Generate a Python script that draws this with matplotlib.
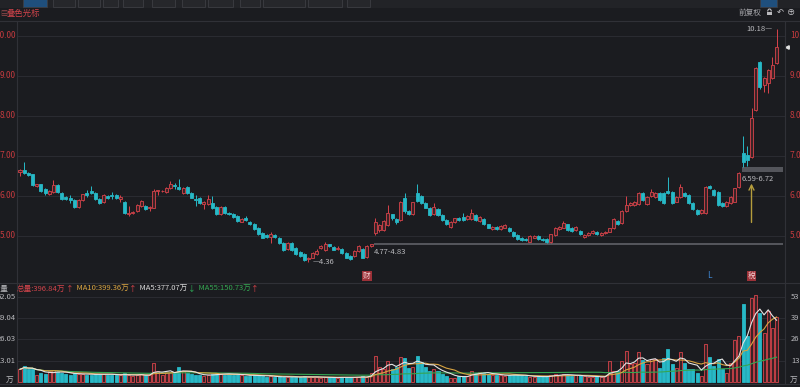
import matplotlib.pyplot as plt
from matplotlib.patches import Rectangle, Arc
from matplotlib.transforms import blended_transform_factory
import pandas as pd

plt.rcParams['font.family'] = ['Noto Sans CJK SC', 'DejaVu Sans']

# daily candles, oldest first
opens = [
    6.60, 6.65, 6.58, 6.54, 6.24, 6.29, 6.17, 6.05, 6.10, 6.27,
    6.07, 5.98, 5.95, 5.90, 5.73, 5.90, 6.08, 6.12, 6.07, 5.93,
    5.84, 6.00, 6.02, 6.02, 5.93, 5.86, 5.56, 5.58, 5.62, 5.75,
    5.75, 5.70, 5.71, 6.12, 6.12, 6.10, 6.20, 6.28, 6.23, 6.08,
    6.22, 6.08, 5.93, 5.96, 5.80, 5.80, 5.83, 5.73, 5.55, 5.73,
    5.58, 5.55, 5.50, 5.36, 5.45, 5.35, 5.30, 5.20, 5.08, 5.02,
    4.97, 5.02, 4.96, 4.82, 4.67, 4.82, 4.70, 4.60, 4.55, 4.42,
    4.46, 4.55, 4.70, 4.65, 4.79, 4.72, 4.67, 4.68, 4.58, 4.50,
    4.49, 4.63, 4.67, 4.48, 4.75, 5.08, 5.14, 5.15, 5.28, 5.54,
    5.42, 5.40, 5.95, 5.62, 5.55, 6.08, 6.00, 5.83, 5.71, 5.55,
    5.68, 5.52, 5.40, 5.23, 5.35, 5.46, 5.48, 5.42, 5.42, 5.52,
    5.37, 5.42, 5.29, 5.17, 5.23, 5.18, 5.21, 5.21, 5.10, 5.02,
    4.96, 4.93, 4.86, 4.96, 5.00, 4.93, 4.92, 4.85, 5.03, 5.18,
    5.21, 5.29, 5.21, 5.15, 5.12, 4.98, 5.02, 5.08, 5.10, 5.03,
    5.07, 5.11, 5.19, 5.37, 5.32, 5.63, 5.77, 5.77, 5.79, 6.08,
    5.79, 6.00, 5.98, 6.08, 6.07, 6.13, 6.10, 5.86, 5.98, 6.07,
    6.02, 5.82, 5.65, 5.57, 5.58, 6.25, 6.15, 6.11, 5.83, 5.75,
    5.82, 5.86, 6.23, 7.08, 7.02, 6.97, 8.15, 9.35, 8.78, 8.82,
    8.94, 9.33,
]
highs = [
    6.68, 6.85, 6.60, 6.56, 6.31, 6.31, 6.21, 6.14, 6.40, 6.29,
    6.09, 6.00, 6.02, 5.92, 5.92, 6.06, 6.14, 6.25, 6.09, 5.95,
    6.04, 6.02, 6.11, 6.04, 6.02, 5.88, 5.75, 5.62, 5.79, 5.90,
    5.77, 5.75, 6.17, 6.15, 6.16, 6.22, 6.37, 6.33, 6.43, 6.22,
    6.24, 6.10, 6.02, 5.98, 5.88, 6.02, 6.00, 5.75, 5.75, 5.75,
    5.60, 5.57, 5.52, 5.44, 5.50, 5.37, 5.32, 5.22, 5.10, 5.04,
    5.10, 5.06, 4.98, 4.84, 4.84, 4.84, 4.72, 4.62, 4.57, 4.48,
    4.60, 4.68, 4.78, 4.84, 4.81, 4.74, 4.74, 4.70, 4.60, 4.52,
    4.65, 4.78, 4.70, 4.78, 4.80, 5.46, 5.30, 5.40, 5.77, 5.56,
    5.45, 5.88, 6.07, 5.66, 5.86, 6.29, 6.02, 5.85, 5.73, 5.83,
    5.70, 5.54, 5.42, 5.38, 5.46, 5.48, 5.58, 5.52, 5.67, 5.54,
    5.49, 5.44, 5.31, 5.24, 5.25, 5.28, 5.30, 5.23, 5.12, 5.04,
    4.98, 4.95, 5.02, 5.02, 5.02, 4.95, 4.94, 5.06, 5.23, 5.25,
    5.38, 5.31, 5.23, 5.25, 5.14, 5.05, 5.10, 5.14, 5.12, 5.10,
    5.12, 5.21, 5.44, 5.39, 5.65, 6.00, 5.84, 5.88, 6.10, 6.10,
    6.00, 6.18, 6.10, 6.10, 6.09, 6.48, 6.12, 6.00, 6.30, 6.09,
    6.04, 5.84, 5.67, 5.67, 6.25, 6.27, 6.17, 6.13, 5.85, 5.88,
    6.00, 6.21, 6.59, 7.50, 7.25, 8.19, 9.22, 9.37, 8.98, 9.17,
    9.48, 10.18,
]
lows = [
    6.50, 6.55, 6.50, 6.25, 6.22, 6.10, 6.02, 6.02, 6.08, 6.08,
    5.90, 5.91, 5.83, 5.70, 5.71, 5.88, 5.98, 6.04, 5.90, 5.80,
    5.82, 5.93, 5.93, 5.92, 5.85, 5.56, 5.50, 5.55, 5.60, 5.73,
    5.65, 5.63, 5.69, 6.02, 6.10, 6.08, 6.18, 6.17, 6.15, 6.06,
    6.05, 5.94, 5.75, 5.81, 5.67, 5.78, 5.67, 5.52, 5.53, 5.55,
    5.53, 5.45, 5.36, 5.34, 5.38, 5.28, 5.15, 5.02, 4.94, 4.96,
    4.82, 4.95, 4.80, 4.63, 4.65, 4.63, 4.52, 4.48, 4.38, 4.36,
    4.44, 4.53, 4.68, 4.63, 4.72, 4.64, 4.65, 4.56, 4.44, 4.40,
    4.47, 4.61, 4.44, 4.46, 4.73, 5.02, 5.10, 5.12, 5.25, 5.40,
    5.30, 5.38, 5.58, 5.52, 5.53, 5.86, 5.81, 5.69, 5.50, 5.53,
    5.50, 5.38, 5.27, 5.21, 5.33, 5.38, 5.38, 5.40, 5.40, 5.38,
    5.35, 5.27, 5.19, 5.15, 5.16, 5.16, 5.19, 5.11, 4.98, 4.91,
    4.88, 4.87, 4.84, 4.94, 4.91, 4.87, 4.83, 4.83, 5.01, 5.16,
    5.19, 5.13, 5.11, 5.13, 5.02, 4.96, 5.00, 5.06, 5.02, 5.01,
    5.05, 5.09, 5.17, 5.28, 5.30, 5.61, 5.75, 5.75, 5.77, 5.88,
    5.77, 5.98, 5.96, 5.88, 5.80, 6.06, 5.80, 5.84, 5.96, 5.98,
    5.80, 5.65, 5.53, 5.55, 5.56, 6.17, 6.00, 5.76, 5.73, 5.73,
    5.80, 5.84, 6.21, 6.72, 6.75, 6.95, 8.13, 8.68, 8.60, 8.57,
    8.92, 9.30,
]
closes = [
    6.65, 6.57, 6.53, 6.27, 6.29, 6.12, 6.07, 6.12, 6.27, 6.10,
    5.92, 5.93, 5.90, 5.72, 5.90, 6.04, 6.02, 6.08, 5.92, 5.82,
    6.02, 5.95, 6.00, 5.94, 5.98, 5.58, 5.58, 5.60, 5.77, 5.87,
    5.67, 5.72, 6.12, 6.14, 6.13, 6.20, 6.30, 6.24, 6.17, 6.20,
    6.07, 5.96, 5.89, 5.83, 5.84, 5.92, 5.69, 5.54, 5.73, 5.57,
    5.55, 5.47, 5.38, 5.42, 5.40, 5.30, 5.17, 5.04, 4.96, 4.98,
    5.06, 4.97, 4.82, 4.65, 4.82, 4.65, 4.54, 4.50, 4.40, 4.46,
    4.58, 4.63, 4.75, 4.79, 4.74, 4.66, 4.71, 4.58, 4.46, 4.43,
    4.63, 4.75, 4.46, 4.75, 4.80, 5.35, 5.27, 5.37, 5.58, 5.44,
    5.34, 5.85, 5.62, 5.56, 5.84, 5.88, 5.83, 5.71, 5.52, 5.72,
    5.52, 5.40, 5.29, 5.36, 5.44, 5.40, 5.40, 5.50, 5.57, 5.40,
    5.47, 5.29, 5.21, 5.22, 5.18, 5.25, 5.28, 5.13, 5.00, 4.93,
    4.90, 4.89, 5.00, 5.00, 4.93, 4.89, 4.85, 5.04, 5.21, 5.23,
    5.33, 5.15, 5.13, 5.23, 5.04, 5.03, 5.08, 5.12, 5.04, 5.08,
    5.10, 5.19, 5.42, 5.30, 5.63, 5.77, 5.82, 5.86, 6.08, 5.90,
    5.98, 6.10, 6.08, 5.90, 5.82, 6.08, 5.82, 5.98, 6.23, 6.00,
    5.82, 5.67, 5.55, 5.65, 6.23, 6.19, 6.02, 5.78, 5.75, 5.86,
    5.98, 6.19, 6.57, 6.86, 6.90, 7.96, 9.19, 8.72, 8.94, 9.15,
    9.27, 9.73,
]
# volume in 万
volumes = [
    78, 98, 80, 82, 43, 57, 47, 65, 75, 60,
    57, 47, 45, 55, 50, 50, 43, 40, 52, 50,
    50, 45, 40, 45, 40, 55, 40, 35, 45, 50,
    40, 40, 118, 65, 40, 60, 60, 62, 92, 65,
    55, 50, 45, 40, 35, 45, 50, 55, 50, 45,
    50, 45, 50, 40, 35, 35, 45, 45, 35, 30,
    35, 30, 35, 30, 32, 30, 30, 30, 35, 30,
    30, 30, 25, 30, 28, 28, 25, 30, 30, 28,
    30, 30, 35, 30, 55, 159, 92, 80, 129, 82,
    92, 155, 150, 85, 90, 160, 120, 90, 70, 82,
    68, 47, 37, 27, 27, 37, 37, 37, 70, 55,
    60, 55, 50, 40, 42, 40, 38, 45, 45, 40,
    40, 36, 30, 30, 35, 35, 35, 40, 50, 45,
    50, 40, 35, 40, 40, 35, 30, 30, 35, 30,
    35, 129, 68, 67, 129, 190, 108, 118, 186, 135,
    108, 143, 140, 86, 149, 200, 112, 88, 186, 118,
    77, 77, 57, 37, 233, 151, 98, 139, 82, 57,
    118, 255, 282, 480, 280, 516, 533, 424, 302, 435,
    333, 396.84,
]

price_levels = [5, 6, 7, 8, 9, 10]
vol_levels = [13.01, 26.03, 39.04, 52.05]
vol_right_labels = ["13", "26", "39", "53"]

gap_start = [85, 173]
gap_low = [4.77, 6.59]
gap_high = [4.83, 6.72]

event_idx = [83, 165, 175]
event_text = ["财", "L", "税"]

header = [
    ("总量:396.84万", "#d2444b"), ("↑", "#e0434a"),
    ("  MA10:399.36万", "#d9a441"), ("↑", "#e0434a"),
    ("  MA5:377.07万", "#d8d8d8"), ("↓", "#2fb35a"),
    ("  MA55:150.73万", "#35a551"), ("↑", "#e0434a"),
]

W, H = 800, 387
BG = "#1b1c20"
RED = "#d8434b"
RED_FILL = "#3a2326"
CYAN = "#27b9c7"
GRID = "#2a2b31"
AXIS_RED = "#c33a3e"
LINE = "#303137"


def fx(px):
    return px / W


def fy(py):
    return 1 - py / H


fig = plt.figure(figsize=(W / 100, H / 100), dpi=100)
fig.patch.set_facecolor(BG)

X0, X1 = 17, 785
FIRST, STEP = 20, 4.18
xlim = ((X0 - FIRST) / STEP, (X1 - FIRST) / STEP)
n = len(closes)

# ---- price panel
ax = fig.add_axes([fx(X0), fy(282), fx(X1) - fx(X0), fy(21) - fy(282)])
ax.set_xlim(*xlim)
ax.set_ylim(10 - (282 - 36) / 40, 10 + (36 - 21) / 40)
ax.axis("off")

for p in price_levels:
    ax.axhline(p, color=GRID, lw=0.8, zorder=0)

bw = 0.72
for i in range(n):
    o, h, l, c = opens[i], highs[i], lows[i], closes[i]
    lo, hi = min(o, c), max(o, c)
    up = c >= o
    col = RED if up else CYAN
    ax.vlines(i, l, lo, color=col, lw=0.7, zorder=2)
    ax.vlines(i, hi, h, color=col, lw=0.7, zorder=2)
    ax.add_patch(Rectangle((i - bw / 2, lo), bw, max(hi - lo, 0.012),
                           facecolor=RED_FILL if up else CYAN, edgecolor=col,
                           lw=0.6, zorder=3))

for s, lo_, hi_ in zip(gap_start, gap_low, gap_high):
    ax.fill_between([s - 0.3, (783 - FIRST) / STEP], lo_, hi_,
                    color="#54555b", lw=0, zorder=1)
    ax.text(s - 0.3, lo_ - 0.06, f"{lo_:.2f}-{hi_:.2f}", color="#b9b9bd",
            fontsize=5.5, ha="left", va="top", zorder=5)

ilow = min(range(n), key=lambda k: lows[k])
ax.text(ilow + 0.9, lows[ilow], f"—{lows[ilow]:.2f}", color="#b9b9bd",
        fontsize=5.5, ha="left", va="center")
ihigh = max(range(n), key=lambda k: highs[k])
ax.text(ihigh - 1.0, highs[ihigh], f"{highs[ihigh]:.2f}—", color="#b9b9bd",
        fontsize=5.5, ha="right", va="center")

ax.annotate("", xy=(175, 6.38), xytext=(175, 5.27),
            arrowprops=dict(arrowstyle="->", color="#b59d3c", lw=1.0,
                            mutation_scale=9))

for idx, t in zip(event_idx, event_text):
    if t == "L":
        ax.text(idx, 3.9, t, color="#3f87d4", fontsize=6, ha="center",
                va="bottom")
    else:
        ax.text(idx, 3.9, t, color="#f2d0d2", fontsize=5.5, ha="center",
                va="bottom", bbox=dict(boxstyle="square,pad=0.15",
                                       fc="#9c3138", ec="none"))

tr = blended_transform_factory(ax.transAxes, ax.transData)
for p in price_levels:
    ax.text(-1.5 / 768, p, f"{p:.2f}", transform=tr, color=AXIS_RED,
            fontsize=6, ha="right", va="center", clip_on=False)
    ax.text(1 + 5 / 768, p, f"{p:.2f}", transform=tr, color=AXIS_RED,
            fontsize=6, ha="left", va="center", clip_on=False)
ax.plot([1 + 2 / 768], [closes[-1]], marker="<", ms=2.5, color="#e0e0e0",
        transform=tr, clip_on=False)

# ---- volume panel
axv = fig.add_axes([fx(X0), fy(383), fx(X1) - fx(X0), fy(293) - fy(383)])
axv.set_xlim(*xlim)
axv.set_ylim(-1 / 1.633, (382 - 293) / 1.633)
axv.axis("off")
for v in vol_levels:
    axv.axhline(v, color=GRID, lw=0.8, zorder=0)

vol = pd.Series(volumes) / 10
for i in range(n):
    up = closes[i] >= opens[i]
    axv.add_patch(Rectangle((i - bw / 2, 0), bw, vol[i],
                            facecolor=RED_FILL if up else CYAN,
                            edgecolor=RED if up else CYAN, lw=0.6, zorder=2))

xs = range(n)
axv.plot(xs, vol.rolling(55, min_periods=1).mean(), color="#35a551", lw=0.8, zorder=4)
axv.plot(xs, vol.rolling(10, min_periods=1).mean(), color="#d9a441", lw=0.8, zorder=4)
axv.plot(xs, vol.rolling(5, min_periods=1).mean(), color="#e4e4e4", lw=0.8, zorder=4)

trv = blended_transform_factory(axv.transAxes, axv.transData)
for v, r in zip(vol_levels, vol_right_labels):
    axv.text(-1.5 / 768, v, f"{v:.2f}", transform=trv, color="#b8b8bc",
             fontsize=5.5, ha="right", va="center", clip_on=False)
    axv.text(1 + 6 / 768, v, r, transform=trv, color="#b8b8bc",
             fontsize=5.5, ha="left", va="center", clip_on=False)
axv.text(-4 / 768, 0.6, "万", transform=trv, color="#b8b8bc", fontsize=5.5,
         ha="right", va="center", clip_on=False)
axv.text(1 + 5 / 768, 0.6, "万", transform=trv, color="#b8b8bc", fontsize=5.5,
         ha="left", va="center", clip_on=False)

# ---- frame lines
for y in (21, 282.5, 383.5):
    fig.add_artist(plt.Line2D([0, 1], [fy(y), fy(y)], color=LINE, lw=0.8))
for x in (X0, X1):
    fig.add_artist(plt.Line2D([fx(x), fx(x)], [fy(21), fy(383)], color=LINE, lw=0.8))

# ---- top toolbar
fig.add_artist(Rectangle((0, fy(8)), 1, fy(0) - fy(8), transform=fig.transFigure,
                         facecolor="#222327", edgecolor="none"))
tabs = [(23, 47), (53, 75), (78, 100), (103, 118), (123, 143), (152, 175),
        (182, 205), (208, 233), (240, 260), (263, 305), (308, 342), (347, 370),
        (760, 777)]
for k, (a, b) in enumerate(tabs):
    sel = k in (0, len(tabs) - 1)
    fig.add_artist(Rectangle((fx(a), fy(7)), fx(b) - fx(a), fy(-2) - fy(7),
                             transform=fig.transFigure,
                             facecolor="#1f4f7d" if sel else "#26272b",
                             edgecolor="#3c3d43", lw=0.6))

fig.text(fx(0), fy(13.5), "▤", color="#9a4a4c", fontsize=5, va="center")
fig.text(fx(7), fy(13.5), "叠色光标", color="#d2444b", fontsize=6, va="center")
fig.text(fx(739), fy(12.5), "前复权", color="#a9a9ad", fontsize=5.5, va="center")
# lock icon (no installed font has the glyph)
fig.add_artist(Rectangle((fx(767), fy(15)), fx(5), fy(11.5) - fy(15),
                         transform=fig.transFigure, facecolor="#b9b9bd",
                         edgecolor="none"))
fig.add_artist(Arc((fx(769.5), fy(11.5)), fx(3.6), fy(0) - fy(5), theta1=0,
                   theta2=180, transform=fig.transFigure, color="#b9b9bd", lw=0.8))
fig.text(fx(777), fy(12.5), "↶", color="#c9c9cd", fontsize=6, va="center")
fig.text(fx(787), fy(12.5), "⊕", color="#c9c9cd", fontsize=6, va="center")

fig.text(fx(9), fy(288.5), "成交量", color="#b8b8bc", fontsize=5.5,
         ha="right", va="center")

renderer = fig.canvas.get_renderer()
xpos = 17
for s, c in header:
    t = fig.text(fx(xpos), fy(288.5), s, color=c, fontsize=5.5, va="center")
    xpos += t.get_window_extent(renderer).width

fig.savefig("out.png", dpi=100, facecolor=BG)
